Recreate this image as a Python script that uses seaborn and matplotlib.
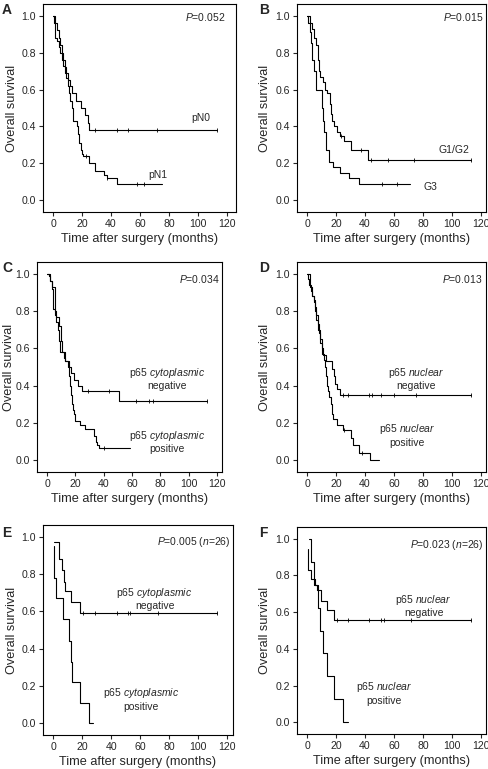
import numpy as np
import matplotlib
matplotlib.use("Agg")
import matplotlib.pyplot as plt
import seaborn as sns

sns.set_style("ticks")
plt.rcParams["font.family"] = ["Liberation Sans", "DejaVu Sans"]
plt.rcParams["mathtext.fontset"] = "custom"
plt.rcParams["mathtext.rm"] = "Liberation Sans"
plt.rcParams["mathtext.it"] = "Liberation Sans:italic"

# ---------------- data (Kaplan-Meier steps: time, survival) ----------------
A_pN0_t = [0, 1.5, 2.5, 4, 5, 6, 7, 8, 9, 10, 12, 13, 16, 19, 22, 24, 25, 113]
A_pN0_s = [1.0, 0.96, 0.92, 0.88, 0.84, 0.80, 0.76, 0.72, 0.69, 0.65, 0.62, 0.58, 0.54, 0.50, 0.46, 0.42, 0.38, 0.38]
A_pN0_c = [29, 44, 52, 72, 113]
A_pN1_t = [0, 1, 1.5, 3, 4, 5, 6, 7, 8, 9, 10, 11, 12, 13, 14, 16.5, 17, 18, 19, 20, 21, 25, 29, 35, 37, 44, 75]
A_pN1_s = [1.0, 0.96, 0.88, 0.86, 0.83, 0.80, 0.76, 0.73, 0.69, 0.66, 0.62, 0.58, 0.54, 0.50, 0.43, 0.40, 0.36, 0.31, 0.27, 0.25, 0.24, 0.20, 0.16, 0.14, 0.12, 0.09, 0.09]
A_pN1_c = [23, 37.5, 58, 63]

B_g12_t = [0, 2, 3.5, 4.6, 6.4, 7.4, 8, 9.2, 11, 12.2, 13.8, 15.6, 16.5, 17.5, 18.9, 20.7, 23, 25.3, 30.3, 41.8, 113]
B_g12_s = [1.0, 0.96, 0.93, 0.88, 0.84, 0.76, 0.70, 0.67, 0.64, 0.60, 0.58, 0.52, 0.47, 0.43, 0.40, 0.37, 0.35, 0.32, 0.27, 0.22, 0.22]
B_g12_c = [23.5, 37, 44, 56, 74, 113]
B_g3_t = [0, 1, 2, 3, 3.5, 4.5, 6, 10, 11, 12, 13, 15.5, 18, 23, 29, 35.5, 71]
B_g3_s = [1.0, 0.96, 0.91, 0.85, 0.76, 0.70, 0.60, 0.50, 0.43, 0.37, 0.27, 0.21, 0.18, 0.15, 0.12, 0.09, 0.09]
B_g3_c = [52, 62]

C_neg_t = [0, 2, 3.5, 5.4, 6.5, 8.2, 10, 10.6, 13, 15.3, 17, 19.3, 21.6, 24.7, 50.6, 113]
C_neg_s = [1.0, 0.96, 0.93, 0.80, 0.77, 0.72, 0.64, 0.58, 0.53, 0.50, 0.47, 0.43, 0.40, 0.37, 0.32, 0.32]
C_neg_c = [29, 44, 63, 72, 75, 113]
C_pos_t = [0, 1.2, 2.4, 3.5, 4.2, 5.4, 6.5, 7.6, 8.5, 9.4, 11.8, 13, 14.5, 15.3, 16, 16.8, 17.6, 18.5, 19.2, 20, 23.5, 27, 33.4, 34.5, 35.3, 37, 58.8]
C_pos_s = [1.0, 0.99, 0.96, 0.92, 0.81, 0.78, 0.74, 0.70, 0.64, 0.58, 0.55, 0.53, 0.50, 0.45, 0.40, 0.35, 0.30, 0.27, 0.25, 0.21, 0.19, 0.17, 0.13, 0.10, 0.08, 0.065, 0.065]
C_pos_c = [40]

D_neg_t = [0, 2.3, 3.5, 4.6, 5.5, 6.5, 7.5, 8.7, 10, 10.8, 13.3, 17.2, 18.4, 19.5, 20.7, 23, 113]
D_neg_s = [1.0, 0.93, 0.88, 0.85, 0.80, 0.75, 0.70, 0.65, 0.60, 0.565, 0.53, 0.49, 0.45, 0.41, 0.38, 0.35, 0.35]
D_neg_c = [25, 28, 43, 45, 51, 60, 75, 113]
D_pos_t = [0, 0.7, 1.5, 2.5, 3.5, 4.6, 5.5, 6.5, 7.5, 8.5, 9.3, 10, 11.5, 12.2, 13, 14, 14.5, 15.2, 16.5, 17.3, 18, 21, 24.8, 30.3, 32, 35.6, 43.7, 49.4]
D_pos_s = [1.0, 0.97, 0.94, 0.91, 0.88, 0.86, 0.82, 0.78, 0.73, 0.68, 0.63, 0.57, 0.54, 0.50, 0.45, 0.40, 0.37, 0.34, 0.30, 0.25, 0.22, 0.19, 0.16, 0.12, 0.08, 0.04, 0.0, 0.0]
D_pos_c = [25.5, 38]

E_neg_t = [0.7, 4, 6.2, 7.4, 8.5, 12.2, 18.9, 113]
E_neg_s = [0.97, 0.88, 0.82, 0.76, 0.71, 0.65, 0.59, 0.59]
E_neg_c = [21, 29, 44, 52, 53, 72, 113]
E_pos_t = [0.5, 0.6, 2.3, 6.9, 10.8, 12.2, 13.4, 18.5, 24.7, 27.7]
E_pos_s = [0.95, 0.78, 0.67, 0.56, 0.44, 0.33, 0.22, 0.11, 0.0, 0.0]
E_pos_c = []

F_neg_t = [1.4, 3, 4.6, 5.7, 6.9, 9.7, 13.8, 18.4, 113]
F_neg_s = [1.0, 0.875, 0.78, 0.75, 0.72, 0.66, 0.61, 0.555, 0.555]
F_neg_c = [21, 28, 43, 51, 53, 72, 113]
F_pos_t = [0.5, 0.7, 3, 4.6, 7.4, 9.2, 10.8, 13.8, 18.4, 24.6, 28]
F_pos_s = [0.945, 0.83, 0.78, 0.75, 0.625, 0.5, 0.375, 0.25, 0.125, 0.0, 0.0]
F_pos_c = []

panel_letters = ["A", "B", "C", "D", "E", "F"]
p_texts = [r"$P$=0.052", r"$P$=0.015", r"$P$=0.034", r"$P$=0.013",
           r"$P$=0.005 ($n$=26)", r"$P$=0.023 ($n$=26)"]
x_ticks = [0, 20, 40, 60, 80, 100, 120]
y_ticks = [0.0, 0.2, 0.4, 0.6, 0.8, 1.0]

# ---------------- figure ----------------
W, H = 489, 769
fig = plt.figure(figsize=(W / 100, H / 100), dpi=100)

def add_ax(l, r, t, b):
    return fig.add_axes([l / W, 1 - b / H, (r - l) / W, (b - t) / H])

boxes = [(43, 236, 4, 212), (297, 486, 4, 212),
         (37, 222, 262, 472), (297, 486, 262, 472),
         (43, 233, 525, 735), (297, 486, 527, 734)]
xlims = [(-6.9, 126.2), (-6.9, 123.4), (-7.1, 123.5), (-6.9, 123.4), (-6.9, 124.0), (-6.9, 123.4)]
letter_pos = [(2, 10), (259, 10), (2, 268), (259, 268), (2, 533), (259, 533)]
ylab_pad = [2.5, 3, 0.5, 3, 2.5, 3]

curves = [
    [(A_pN0_t, A_pN0_s, A_pN0_c), (A_pN1_t, A_pN1_s, A_pN1_c)],
    [(B_g12_t, B_g12_s, B_g12_c), (B_g3_t, B_g3_s, B_g3_c)],
    [(C_neg_t, C_neg_s, C_neg_c), (C_pos_t, C_pos_s, C_pos_c)],
    [(D_neg_t, D_neg_s, D_neg_c), (D_pos_t, D_pos_s, D_pos_c)],
    [(E_neg_t, E_neg_s, E_neg_c), (E_pos_t, E_pos_s, E_pos_c)],
    [(F_neg_t, F_neg_s, F_neg_c), (F_pos_t, F_pos_s, F_pos_c)],
]

labels = [
    [("pN0", 102, 0.445), ("pN1", 72, 0.14)],
    [("G1/G2", 101, 0.275), ("G3", 85, 0.07)],
    [("p65 $cytoplasmic$\nnegative", 84.7, 0.44), ("p65 $cytoplasmic$\npositive", 84.7, 0.10)],
    [("p65 $nuclear$\nnegative", 75, 0.44), ("p65 $nuclear$\npositive", 69, 0.135)],
    [("p65 $cytoplasmic$\nnegative", 70, 0.67), ("p65 $cytoplasmic$\npositive", 60.5, 0.13)],
    [("p65 $nuclear$\nnegative", 80.5, 0.635), ("p65 $nuclear$\npositive", 53, 0.16)],
]
p_pos = [(119, 0.99), (121.6, 0.99), (122, 0.97), (121, 0.97), (122, 0.97), (122, 0.965)]

for i in range(6):
    ax = add_ax(*boxes[i])
    for t, s, c in curves[i]:
        sns.lineplot(x=t, y=s, ax=ax, drawstyle="steps-post", estimator=None,
                     sort=False, color="black", linewidth=0.8)
        if len(c):
            idx = np.searchsorted(np.asarray(t), np.asarray(c), side="right") - 1
            cy = np.asarray(s)[idx]
            ax.plot(c, cy, linestyle="none", marker="|", markersize=3,
                    markeredgewidth=0.6, color="black")
    ax.set_xlim(*xlims[i])
    ax.set_ylim(-0.063, 1.063)
    ax.set_xticks(x_ticks)
    ax.set_yticks(y_ticks)
    ax.set_yticklabels([f"{v:.1f}" for v in y_ticks])
    ax.tick_params(direction="out", length=3.2, width=0.8, labelsize=7.6, pad=2)
    for sp in ax.spines.values():
        sp.set_visible(True)
        sp.set_linewidth(0.8)
        sp.set_color("black")
    ax.set_xlabel("Time after surgery (months)", fontsize=9.2, labelpad=3)
    ax.set_ylabel("Overall survival", fontsize=9.2, labelpad=ylab_pad[i])
    ax.text(p_pos[i][0], p_pos[i][1], p_texts[i], ha="right", va="center", fontsize=7.5)
    for txt, x, y in labels[i]:
        ax.text(x, y, txt, ha="center", va="center", fontsize=7.5, linespacing=1.15)
    fig.text(letter_pos[i][0] / W, 1 - letter_pos[i][1] / H, panel_letters[i],
             fontsize=10, fontweight="bold", ha="left", va="center")

fig.savefig("out.png", dpi=100)
